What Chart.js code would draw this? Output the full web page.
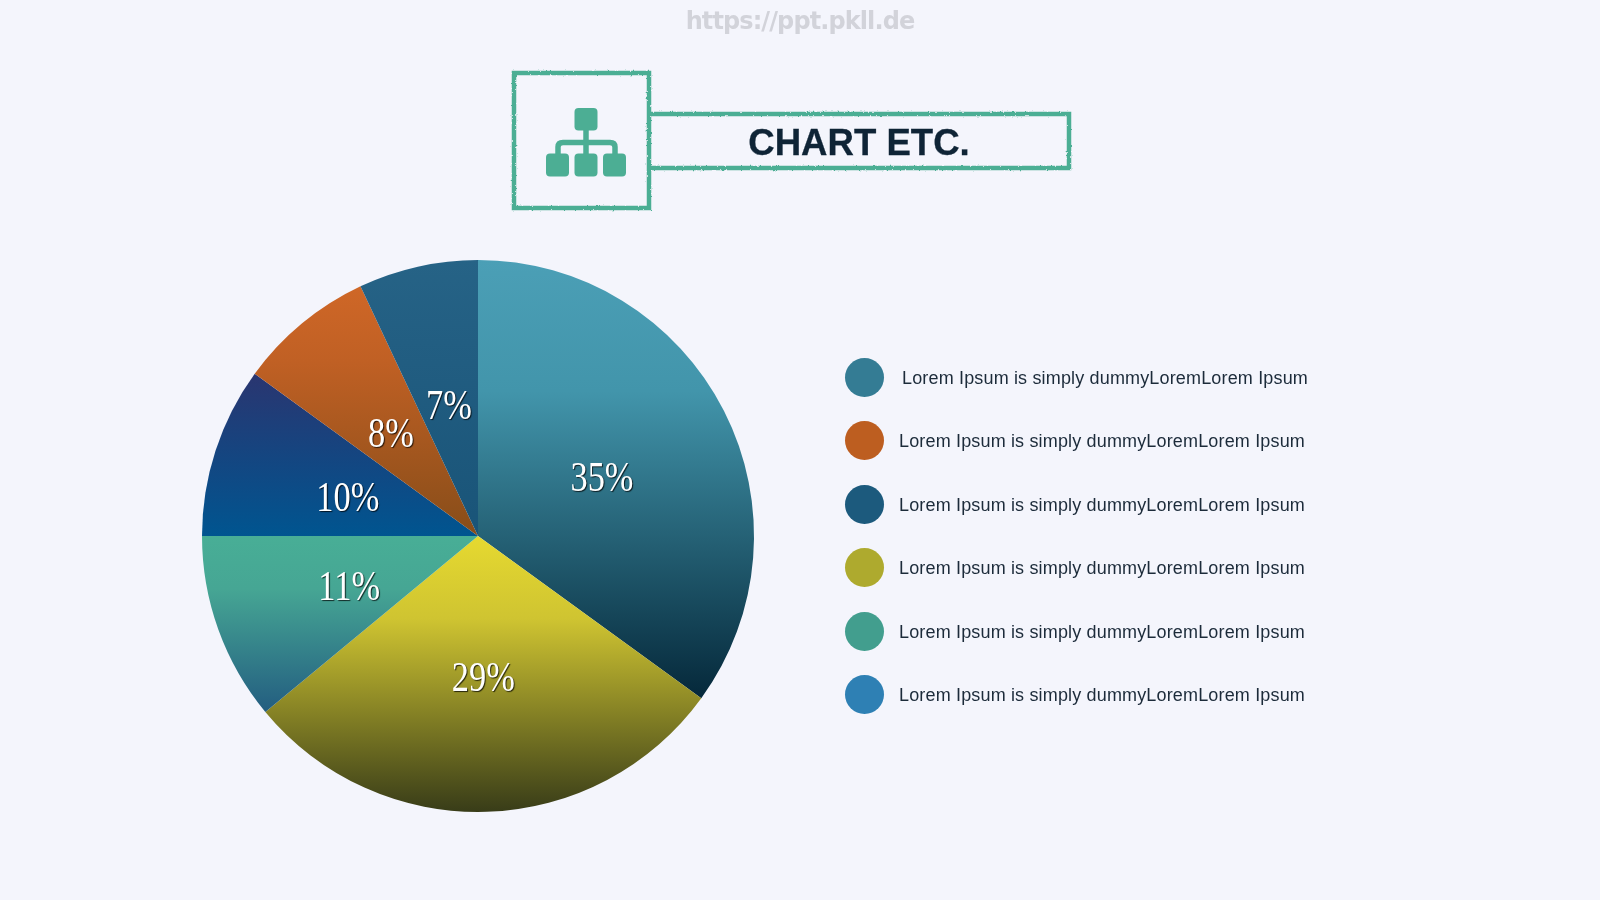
<!DOCTYPE html>
<html>
<head>
<meta charset="utf-8">
<title>CHART ETC.</title>
<script src="https://cdn.jsdelivr.net/npm/chart.js@4"></script>
<style>
html, body { margin: 0; padding: 0; background: #f4f5fc; }
body { width: 1600px; height: 900px; overflow: hidden; position: relative; font-family: "Liberation Sans", Arial, sans-serif; }
#pie { position: absolute; left: 0; top: 0; }
#deco { position: absolute; left: 0; top: 0; }
#site { position: absolute; left: 0; width: 1600px; top: 7px; text-align: center; font: bold 24px "DejaVu Sans", sans-serif; color: #d2d3da; letter-spacing: -0.9px; filter: blur(0.6px); }
#title { position: absolute; left: 650px; width: 418px; top: 122px; text-align: center; font: bold 36.6px "Liberation Sans", sans-serif; color: #0f2436; -webkit-text-stroke: 0.3px #0f2436; }
.row { position: absolute; left: 845px; height: 39px; }
.row i { position: absolute; left: 0; top: 0; width: 39px; height: 39px; border-radius: 50%; }
.row span { position: absolute; top: 10px; white-space: nowrap; font-size: 18px; line-height: 21px; color: #1c2b3a; letter-spacing: 0.16px; }
</style>
</head>
<body>
<canvas id="pie" width="1600" height="900"></canvas>

<svg id="deco" width="1600" height="900">
  <defs>
    <filter id="chalk" x="-5%" y="-5%" width="110%" height="110%">
      <feTurbulence type="fractalNoise" baseFrequency="0.4" numOctaves="2" seed="4"/>
      <feDisplacementMap in="SourceGraphic" scale="2.5"/>
      <feGaussianBlur stdDeviation="0.35"/>
    </filter>
  </defs>
  <g fill="none" stroke="#4cae94" stroke-width="4.5" filter="url(#chalk)">
    <rect x="514" y="73" width="135" height="135"/>
    <path d="M649 114 H1069 V168 H649"/>
  </g>
  <!-- org chart icon -->
  <g fill="#4cae94">
    <rect x="574.500" y="108" width="23" height="22.500" rx="4"/>
    <rect x="546" y="153.500" width="23" height="23" rx="4"/>
    <rect x="574.500" y="153.500" width="23" height="23" rx="4"/>
    <rect x="603" y="153.500" width="23" height="23" rx="4"/>
  </g>
  <path d="M586 130 V154 M558 154 V147 Q558 142.500 563 142.500 H610 Q615 142.500 615 147 V154" fill="none" stroke="#4cae94" stroke-width="5.500"/>
</svg>

<div id="site">https://ppt.pkll.de</div>
<div id="title">CHART ETC.</div>
<div id="legend"></div>

<script>
var categories = ["A", "B", "C", "D", "E", "F"];
var values = [35, 29, 11, 10, 8, 7];
var legendLabels = [
  "Lorem Ipsum is simply dummyLoremLorem Ipsum",
  "Lorem Ipsum is simply dummyLoremLorem Ipsum",
  "Lorem Ipsum is simply dummyLoremLorem Ipsum",
  "Lorem Ipsum is simply dummyLoremLorem Ipsum",
  "Lorem Ipsum is simply dummyLoremLorem Ipsum",
  "Lorem Ipsum is simply dummyLoremLorem Ipsum"
];

// slice fills run top to bottom over each slice's own height
var topColors = ["#4b9fb6", "#e6d930", "#48ae96", "#2a3570", "#cf6727", "#266386"];
var midColors = ["#4295ab", "#cfc431", "#46a694", "#1d3f7a", "#c06024", "#225e82"];
var bottomColors = ["#05283a", "#383c18", "#235d80", "#005590", "#874d19", "#195478"];
var dotColors = ["#347c94", "#bd5e20", "#1c5a7d", "#aeaa2e", "#429e8e", "#2e80b4"];
var dotTops = [358, 421, 485, 548, 612, 675];
var textLefts = [57, 54, 54, 54, 54, 54];

function sliceGradient(context) {
  var chart = context.chart;
  var area = chart.chartArea;
  if (!area) return topColors[context.dataIndex];
  var r = Math.min(area.right - area.left, area.bottom - area.top) / 2;
  var cy = (area.top + area.bottom) / 2;
  var total = values.reduce(function (a, b) { return a + b; }, 0);
  var before = 0;
  for (var i = 0; i < context.dataIndex; i++) before += values[i];
  var a0 = before / total * Math.PI * 2;
  var a1 = (before + values[context.dataIndex]) / total * Math.PI * 2;
  var ys = [cy, cy - Math.cos(a0) * r, cy - Math.cos(a1) * r];
  if (a0 <= 0) ys.push(cy - r);
  if (a0 < Math.PI && a1 > Math.PI) ys.push(cy + r);
  var g = chart.ctx.createLinearGradient(0, Math.min.apply(null, ys), 0, Math.max.apply(null, ys));
  g.addColorStop(0, topColors[context.dataIndex]);
  g.addColorStop(0.3, midColors[context.dataIndex]);
  g.addColorStop(1, bottomColors[context.dataIndex]);
  return g;
}

// percent labels, narrow serif with a small dark edge
var percentLabels = {
  id: "percentLabels",
  afterDatasetsDraw: function (chart) {
    var ctx = chart.ctx;
    chart.getDatasetMeta(0).data.forEach(function (arc, i) {
      var p = arc.getCenterPoint();
      ctx.save();
      ctx.translate(p.x + 1, p.y + 6);
      ctx.scale(0.8, 1);
      ctx.font = '43px "Liberation Serif", serif';
      ctx.textAlign = "center";
      ctx.textBaseline = "middle";
      ctx.shadowColor = "rgba(0,0,0,0.75)";
      ctx.shadowOffsetX = 1;
      ctx.shadowOffsetY = 1;
      ctx.shadowBlur = 1;
      ctx.fillStyle = "#ffffff";
      ctx.fillText(values[i] + "%", 0, 0);
      ctx.restore();
    });
  }
};

new Chart(document.getElementById("pie").getContext("2d"), {
  type: "pie",
  data: {
    labels: categories,
    datasets: [{
      data: values,
      backgroundColor: sliceGradient,
      borderWidth: 0
    }]
  },
  options: {
    responsive: false,
    animation: false,
    layout: { padding: { left: 202, top: 260, right: 846, bottom: 88 } },
    plugins: { legend: { display: false }, tooltip: { enabled: false } }
  },
  plugins: [percentLabels]
});

// legend rows on the right
var legend = document.getElementById("legend");
legendLabels.forEach(function (text, i) {
  var row = document.createElement("div");
  row.className = "row";
  row.style.top = dotTops[i] + "px";
  var dot = document.createElement("i");
  dot.style.background = dotColors[i];
  var label = document.createElement("span");
  label.style.left = textLefts[i] + "px";
  label.textContent = text;
  row.appendChild(dot);
  row.appendChild(label);
  legend.appendChild(row);
});
</script>
</body>
</html>
